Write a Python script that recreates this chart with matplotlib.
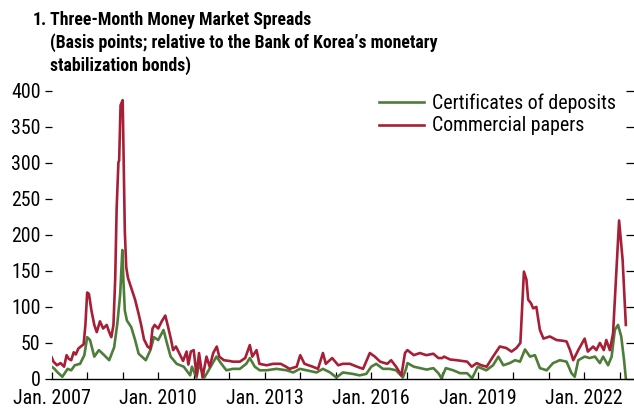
import matplotlib
matplotlib.use('Agg')
import matplotlib.pyplot as plt
from matplotlib import font_manager as fm

# narrow font if present, otherwise Liberation Sans (Arial metrics)
names = {f.name for f in fm.fontManager.ttflist}
NARROW = None
for cand in ['Liberation Sans Narrow', 'Arial Narrow', 'Roboto Condensed', 'Open Sans Condensed',
             'DejaVu Sans Condensed', 'Noto Sans Condensed']:
    if cand in names:
        NARROW = cand
        break
FONT = NARROW or 'Liberation Sans'
plt.rcParams['font.family'] = [FONT, 'DejaVu Sans']
SCALE = 1.0 if NARROW else 0.84   # shrink wide fonts so text widths match

# === data (decimal years, basis points) ===
cp_t = [2007.00, 2007.05, 2007.15, 2007.25, 2007.35, 2007.42, 2007.48, 2007.55, 2007.62, 2007.68,
        2007.75, 2007.82, 2007.90, 2007.95, 2008.00, 2008.05, 2008.12, 2008.20, 2008.27, 2008.36,
        2008.45, 2008.55, 2008.62, 2008.68, 2008.74, 2008.79, 2008.83, 2008.88, 2008.90, 2008.94,
        2009.00, 2009.03, 2009.06, 2009.10, 2009.15, 2009.25, 2009.35, 2009.45, 2009.52, 2009.60,
        2009.70, 2009.78, 2009.84, 2009.90, 2010.00, 2010.10, 2010.20, 2010.28, 2010.36, 2010.42,
        2010.50, 2010.60, 2010.70, 2010.80, 2010.85, 2010.92, 2011.00, 2011.08, 2011.15, 2011.25,
        2011.36, 2011.45, 2011.55, 2011.65, 2011.72, 2011.85, 2012.00, 2012.10, 2012.30, 2012.45,
        2012.58, 2012.65, 2012.77, 2012.85, 2013.05, 2013.24, 2013.45, 2013.60, 2013.70, 2013.90,
        2014.00, 2014.12, 2014.35, 2014.50, 2014.64, 2014.72, 2014.90, 2015.07, 2015.20, 2015.40,
        2015.60, 2015.77, 2015.96, 2016.10, 2016.25, 2016.45, 2016.56, 2016.70, 2016.85, 2016.95,
        2017.02, 2017.20, 2017.37, 2017.55, 2017.75, 2017.89, 2018.00, 2018.05, 2018.22, 2018.41,
        2018.70, 2018.83, 2018.97, 2019.10, 2019.25, 2019.43, 2019.62, 2019.80, 2019.95, 2020.09,
        2020.20, 2020.30, 2020.37, 2020.42, 2020.50, 2020.56, 2020.65, 2020.75, 2020.85, 2021.03,
        2021.22, 2021.40, 2021.50, 2021.60, 2021.69, 2021.83, 2022.01, 2022.10, 2022.25, 2022.34,
        2022.44, 2022.55, 2022.62, 2022.72, 2022.81, 2022.98, 2023.02, 2023.08, 2023.17]
cp_v = [30, 24, 19, 22, 17, 33, 28, 26, 37, 34,
        42, 45, 48, 75, 120, 118, 95, 75, 65, 80,
        70, 75, 65, 58, 75, 140, 237, 301, 303, 380,
        387, 300, 205, 155, 140, 125, 110, 90, 75, 55,
        45, 42, 70, 75, 70, 80, 88, 72, 55, 40,
        45, 35, 25, 38, 20, 38, 40, 5, 36, 2,
        31, 17, 36, 45, 31, 26, 25, 24, 24, 29,
        47, 31, 40, 21, 19, 21, 21, 17, 14, 17,
        33, 21, 17, 14, 36, 21, 29, 19, 21, 21,
        17, 14, 36, 31, 24, 21, 26, 17, 5, 36,
        40, 33, 36, 33, 35, 29, 29, 31, 27, 26,
        24, 17, 22, 19, 17, 31, 45, 43, 38, 43,
        50, 149, 138, 110, 105, 98, 100, 68, 56, 59,
        54, 53, 52, 40, 26, 40, 56, 38, 45, 40,
        50, 40, 54, 40, 63, 220, 198, 165, 75]

cd_t = [2007.00, 2007.08, 2007.15, 2007.30, 2007.45, 2007.55, 2007.65, 2007.80, 2007.92, 2008.00,
        2008.08, 2008.20, 2008.33, 2008.48, 2008.62, 2008.76, 2008.85, 2008.93, 2008.99, 2009.02,
        2009.06, 2009.12, 2009.24, 2009.35, 2009.45, 2009.65, 2009.78, 2009.88, 2010.00, 2010.15,
        2010.25, 2010.35, 2010.52, 2010.72, 2010.90, 2010.95, 2011.08, 2011.15, 2011.30, 2011.42,
        2011.64, 2011.78, 2011.92, 2012.10, 2012.30, 2012.48, 2012.58, 2012.72, 2012.86, 2013.05,
        2013.33, 2013.62, 2013.80, 2013.99, 2014.18, 2014.46, 2014.64, 2014.84, 2015.02, 2015.20,
        2015.48, 2015.67, 2015.86, 2016.00, 2016.14, 2016.33, 2016.52, 2016.70, 2016.89, 2016.98,
        2017.02, 2017.20, 2017.38, 2017.56, 2017.75, 2017.89, 2017.98, 2018.10, 2018.31, 2018.50,
        2018.70, 2018.84, 2019.00, 2019.24, 2019.43, 2019.58, 2019.72, 2019.90, 2020.05, 2020.19,
        2020.33, 2020.47, 2020.61, 2020.75, 2020.94, 2021.12, 2021.31, 2021.50, 2021.64, 2021.73,
        2021.83, 2022.01, 2022.15, 2022.30, 2022.44, 2022.53, 2022.67, 2022.77, 2022.86, 2022.95,
        2023.04, 2023.12, 2023.17]
cd_v = [17, 14, 10, 3, 14, 12, 19, 21, 33, 58,
        54, 31, 40, 33, 26, 44, 77, 118, 179, 137,
        95, 81, 72, 54, 35, 26, 40, 58, 54, 68,
        49, 31, 21, 17, 5, 17, 2, 21, 2, 12,
        31, 21, 12, 14, 14, 21, 29, 17, 12, 12,
        14, 12, 9, 14, 12, 9, 14, 9, 2, 9,
        7, 5, 7, 17, 21, 14, 14, 12, 2, 14,
        22, 17, 15, 13, 15, 8, 1, 15, 12, 8,
        8, 1, 17, 12, 19, 31, 19, 22, 26, 24,
        41, 31, 33, 15, 12, 22, 26, 24, 8, 3,
        26, 31, 29, 31, 22, 31, 19, 31, 68, 75,
        59, 26, 1]

years = list(range(2007, 2024))
label_years = [2007, 2010, 2013, 2016, 2019, 2022]
yticks = [0, 50, 100, 150, 200, 250, 300, 350, 400]

GREEN = '#4E7D3A'
RED = '#A71F36'
FS_TICK = 14.3 * SCALE
FS_TITLE = 12.8 * SCALE

fig = plt.figure(figsize=(6.34, 4.11), dpi=100)
ax = fig.add_axes([0.0815, 0.078, 1 - 0.0815, 0.701])

ax.plot(cd_t, cd_v, color=GREEN, lw=1.9, label='Certificates of deposits')
ax.plot(cp_t, cp_v, color=RED, lw=1.9, label='Commercial papers')

ax.set_xlim(2007, 2023.40)
ax.set_ylim(0, 400)

for s in ['top', 'left', 'right']:
    ax.spines[s].set_visible(False)
ax.spines['bottom'].set_linewidth(1.0)

ax.set_xticks(years)
ax.set_xticklabels([f'Jan. {y}' if y in label_years else '' for y in years])
ax.tick_params(axis='x', direction='in', length=5, width=0.9, labelsize=FS_TICK, pad=7)
ax.set_yticks(yticks)
ax.tick_params(axis='y', direction='out', length=5, width=0.9, labelsize=FS_TICK, pad=3)

# right-hand ticks point inward, no labels
ax2 = ax.twinx()
ax2.set_ylim(ax.get_ylim())
ax2.set_yticks(yticks)
ax2.tick_params(axis='y', direction='in', length=6, width=0.9, labelright=False)
for s in ax2.spines.values():
    s.set_visible(False)

ax.legend(loc='upper left', bbox_to_anchor=(0.548, 1.02), frameon=False, fontsize=FS_TICK,
          handlelength=2.3, handletextpad=0.4, labelspacing=0.2, borderaxespad=0)

fig.text(33 / 634, 1 - 11 / 411, '1.', fontsize=FS_TITLE, fontweight='bold', va='top')
fig.text(50 / 634, 1 - 11 / 411,
         'Three-Month Money Market Spreads\n'
         '(Basis points; relative to the Bank of Korea\u2019s monetary\n'
         'stabilization bonds)',
         fontsize=FS_TITLE, fontweight='bold', va='top', linespacing=1.3)

fig.savefig('out.png', dpi=100)
